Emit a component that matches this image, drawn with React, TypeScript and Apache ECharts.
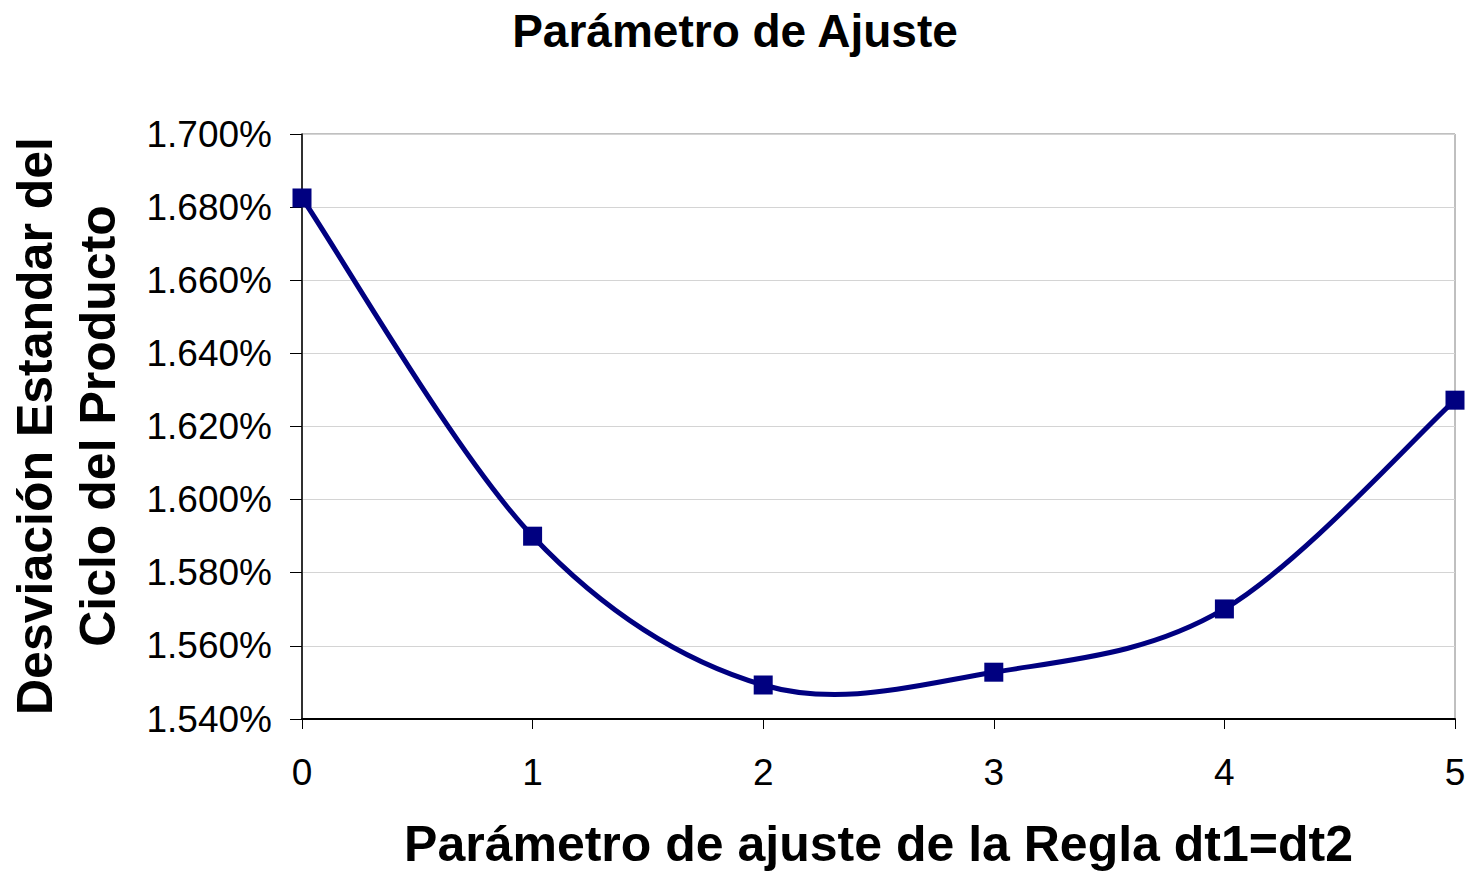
import React, { useEffect, useRef } from "react";
import * as echarts from "echarts";

const titleText = "Parámetro de Ajuste";
const xAxisTitle = "Parámetro de ajuste de la Regla dt1=dt2";
const yAxisTitleLines = ["Desviación Estandar del", "Ciclo del Producto"];
const xValues = [0, 1, 2, 3, 4, 5];
const stdDevPct = [1.6825, 1.59, 1.5493, 1.5528, 1.5701, 1.6272];

const FONT = "'Liberation Sans', Arial, sans-serif";
const NAVY = "#000080";

export default function App() {
  const ref = useRef<HTMLDivElement>(null);
  useEffect(() => {
    if (!ref.current) return;
    const chart = echarts.init(ref.current, null, { renderer: "svg" });
    const points = xValues.map((x, i) => [x, stdDevPct[i]]);
    const n = points.length;
    chart.setOption({
      animation: false,
      backgroundColor: "#ffffff",
      title: {
        text: titleText,
        left: "center",
        top: 3,
        textStyle: { fontFamily: FONT, fontSize: 46, fontWeight: "bold", color: "#000" },
      },
      grid: {
        left: 302,
        right: 15,
        top: 134,
        bottom: 153,
        show: true,
        borderColor: "#808080",
        borderWidth: 1,
        containLabel: false,
        outerBoundsMode: "none",
      },
      xAxis: {
        type: "value",
        min: 0,
        max: 5,
        interval: 1,
        name: xAxisTitle,
        nameLocation: "middle",
        nameGap: 100,
        nameTextStyle: { fontFamily: FONT, fontSize: 50, fontWeight: "bold", color: "#000" },
        axisLine: { show: true, lineStyle: { color: "#000", width: 2 } },
        axisTick: { show: true, length: 10, lineStyle: { color: "#000", width: 1 } },
        axisLabel: { fontFamily: FONT, fontSize: 37, color: "#000", margin: 35 },
        splitLine: { show: false },
      },
      yAxis: {
        type: "value",
        min: 1.54,
        max: 1.7,
        interval: 0.02,
        axisLine: { show: true, lineStyle: { color: "#000", width: 1.5 } },
        axisTick: { show: true, length: 12, lineStyle: { color: "#000", width: 1 } },
        axisLabel: {
          fontFamily: FONT,
          fontSize: 37,
          color: "#000",
          margin: 30,
          formatter: (v: number) => v.toFixed(3) + "%",
        },
        splitLine: { show: true, lineStyle: { color: "#d4d4d4", width: 1 } },
      },
      graphic: [
        {
          type: "text",
          x: 66,
          y: 426,
          rotation: Math.PI / 2,
          style: {
            text: yAxisTitleLines.join("\n"),
            font: `bold 50px ${FONT}`,
            fill: "#000",
            align: "center",
            verticalAlign: "middle",
            lineHeight: 63,
          },
        },
      ],
      series: [
        {
          type: "custom",
          data: points,
          clip: false,
          z: 2,
          renderItem: (params: any, api: any) => {
            const i = params.dataIndex;
            if (i >= n - 1) return null;
            const c = (k: number) => api.coord(points[Math.max(0, Math.min(n - 1, k))]);
            const p0 = c(i - 1);
            const p1 = c(i);
            const p2 = c(i + 1);
            const p3 = c(i + 2);
            const t = 1 / 6;
            return {
              type: "bezierCurve",
              shape: {
                x1: p1[0],
                y1: p1[1],
                x2: p2[0],
                y2: p2[1],
                cpx1: p1[0] + (p2[0] - p0[0]) * t,
                cpy1: p1[1] + (p2[1] - p0[1]) * t,
                cpx2: p2[0] - (p3[0] - p1[0]) * t,
                cpy2: p2[1] - (p3[1] - p1[1]) * t,
              },
              style: { stroke: NAVY, lineWidth: 5, fill: null },
            };
          },
        },
        {
          type: "scatter",
          data: points,
          z: 3,
          symbol: "rect",
          symbolSize: 19,
          itemStyle: { color: NAVY, opacity: 1 },
        },
      ],
    });
    return () => chart.dispose();
  }, []);
  return (
    <div
      ref={ref}
      style={{ position: "fixed", left: 0, top: 0, width: 1470, height: 872, background: "#fff" }}
    />
  );
}
